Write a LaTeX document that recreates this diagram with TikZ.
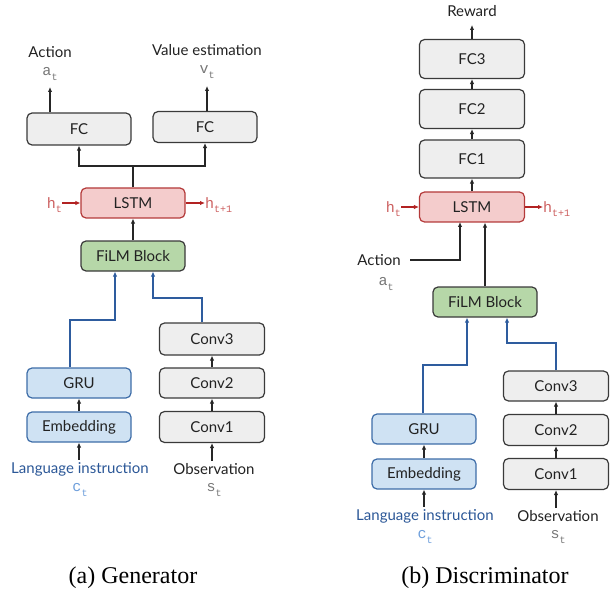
\documentclass[tikz,border=0pt]{standalone}
\usepackage{fontspec}
\setmainfont{Lato}
\newfontfamily\monof{Liberation Mono}
\newfontfamily\capf{Liberation Serif}
\usetikzlibrary{arrows.meta,calc}
\definecolor{boxgray}{HTML}{EEEEEE}
\definecolor{edgegray}{HTML}{3A3A3A}
\definecolor{lstmfill}{HTML}{F4CCCC}
\definecolor{lstmedge}{HTML}{B43A3A}
\definecolor{filmfill}{HTML}{B6D7A8}
\definecolor{bluefill}{HTML}{CFE2F3}
\definecolor{blueedge}{HTML}{3E6DA8}
\definecolor{blueline}{HTML}{2E5C9E}
\definecolor{langtext}{HTML}{2B5797}
\definecolor{ctext}{HTML}{6D9EDB}
\definecolor{htext}{HTML}{CC5F5F}
\definecolor{redarrow}{HTML}{B22222}
\definecolor{vartext}{HTML}{777777}
\definecolor{txt}{HTML}{222222}
\newcommand\sbt[1]{\raisebox{-0.6ex}{\fontsize{10}{10}\selectfont #1}}
\newcommand\mvar[2]{{\monof\fontsize{15}{16}\selectfont #1\sbt{#2}}}
\tikzset{
  blk/.style={draw=edgegray, fill=boxgray, rounded corners=5pt, line width=1.2pt,
    minimum width=104pt, minimum height=#1, inner sep=0pt, text=txt,
    font=\fontsize{15}{17}\selectfont},
  blk/.default=30pt,
  lstmbox/.style={blk, draw=lstmedge, fill=lstmfill},
  filmbox/.style={blk, fill=filmfill},
  bluebox/.style={blk, draw=blueedge, fill=bluefill},
  lbl/.style={inner sep=0pt, text=txt, font=\fontsize{15}{17}\selectfont},
  arr/.style={-{Latex[length=5pt,width=4.5pt]}, line width=1.2pt, draw=black!85},
  redarr/.style={arr, draw=redarrow},
  bluearr/.style={arr, draw=blueline},
  plain/.style={line width=1.2pt, draw=black!85},
}
\begin{document}
\begin{tikzpicture}[x=1pt,y=-1pt]
\useasboundingbox (0,0) rectangle (611,591);
% ---------------- (a) Generator ----------------
\node[blk=32pt] (FCa) at (79,129) {FC};
\node[blk=31pt] (FCb) at (205,127) {FC};
\node[lstmbox] (LSTMa) at (133,203) {LSTM};
\node[filmbox] (FiLMa) at (133,256) {FiLM Block};
\node[bluebox] (GRUa) at (79,383) {GRU};
\node[bluebox=31pt] (Emba) at (79,427) {Embedding};
\node[blk=32pt, minimum width=105pt] (C3a) at (212,339) {Conv3};
\node[blk, minimum width=105pt] (C2a) at (212,383) {Conv2};
\node[blk=31pt, minimum width=105pt] (C1a) at (212,427) {Conv1};

\node[lbl] (actA) at (50,52) {Action};
\node[inner sep=0pt, text=vartext] (atA) at (50,74) {\mvar{a}{t}};
\node[lbl] (valA) at (207,50) {Value estimation};
\node[inner sep=0pt, text=vartext] (vtA) at (207,72) {\mvar{v}{t}};
\coordinate (atip) at (50,87);
\coordinate (vtip) at (207,86);
\draw[arr] (atip |- FCa.north) -- (atip);
\draw[arr] (vtip |- FCb.north) -- (vtip);

\coordinate (bra) at (133,166);
\draw[plain] (LSTMa.north) -- (bra);
\draw[arr] (bra) -| (FCa.south);
\draw[arr] (bra) -| (FCb.south);
\draw[arr] (FiLMa.north) -- (LSTMa.south);

\node[inner sep=0pt, anchor=base east, text=htext] (htA) at (62,208) {\mvar{h}{t}};
\node[inner sep=0pt, anchor=base west, text=htext] (ht1A) at (205,208) {\mvar{h}{t+1}};
\draw[redarr] (htA.east |- LSTMa) -- (LSTMa.west);
\draw[redarr] (LSTMa.east) -- (ht1A.west |- LSTMa);

\coordinate (ja) at (115,320);
\coordinate (jb) at (153,298);
\draw[bluearr] ([xshift=-9pt]GRUa.north) |- (ja) -- (ja |- FiLMa.south);
\draw[bluearr] ([xshift=-10pt]C3a.north) |- (jb) -- (jb |- FiLMa.south);
\draw[arr] (Emba.north) -- (GRUa.south);
\draw[arr] (C1a.north) -- (C2a.south);
\draw[arr] (C2a.north) -- (C3a.south);

\node[lbl, text=langtext] (langA) at (80,469) {Language instruction};
\node[inner sep=0pt, text=ctext] (ctA) at (80,490) {\mvar{c}{t}};
\node[lbl] (obsA) at (214,469) {Observation};
\node[inner sep=0pt, text=vartext] (stA) at (214,490) {\mvar{s}{t}};
\draw[arr] (langA.north -| Emba) ++(0,-2) -- (Emba.south);
\draw[arr] (obsA.north -| C1a) ++(0,-2) -- (C1a.south);

\node[inner sep=0pt, font=\capf\fontsize{24}{26}\selectfont] (capA) at (133,578) {(a) Generator};

% ---------------- (b) Discriminator ----------------
\node[blk=39pt, minimum width=105pt] (FC3) at (472,59) {FC3};
\node[blk=39pt, minimum width=105pt] (FC2) at (472,109) {FC2};
\node[blk=38pt, minimum width=105pt] (FC1) at (472,159) {FC1};
\node[lstmbox, minimum width=105pt] (LSTMb) at (472,207) {LSTM};
\node[filmbox] (FiLMb) at (485,302) {FiLM Block};
\node[bluebox=31pt] (GRUb) at (424,429) {GRU};
\node[bluebox=31pt] (Embb) at (424,474) {Embedding};
\node[blk, minimum width=105pt] (C3b) at (556,386) {Conv3};
\node[blk=31pt, minimum width=105pt] (C2b) at (556,430) {Conv2};
\node[blk=31pt, minimum width=105pt] (C1b) at (556,474) {Conv1};

\node[lbl] (rew) at (472,11) {Reward};
\coordinate (rtip) at (472,25);
\draw[arr] (FC3.north) -- (rtip);
\draw[arr] (FC2.north) -- (FC3.south);
\draw[arr] (FC1.north) -- (FC2.south);
\draw[arr] (LSTMb.north) -- (FC1.south);

\node[inner sep=0pt, anchor=base east, text=htext] (htB) at (401,212) {\mvar{h}{t}};
\node[inner sep=0pt, anchor=base west, text=htext] (ht1B) at (543,212) {\mvar{h}{t+1}};
\draw[redarr] (htB.east |- LSTMb) -- (LSTMb.west);
\draw[redarr] (LSTMb.east) -- (ht1B.west |- LSTMb);

\node[lbl] (actB) at (379,260) {Action};
\node[inner sep=0pt, text=vartext] (atB) at (386,284) {\mvar{a}{t}};
\coordinate (actend) at (410,260);
\coordinate (lin) at (460,222);
\draw[arr] (actend) -| (lin);
\draw[arr] (FiLMb.north) -- (FiLMb.north |- LSTMb.south);

\coordinate (jc) at (467,365);
\coordinate (jd) at (507,343);
\draw[bluearr] ([xshift=-1pt]GRUb.north) |- (jc) -- (jc |- FiLMb.south);
\draw[bluearr] (C3b.north) |- (jd) -- (jd |- FiLMb.south);
\draw[arr] (Embb.north) -- (GRUb.south);
\draw[arr] (C1b.north) -- (C2b.south);
\draw[arr] (C2b.north) -- (C3b.south);

\node[lbl, text=langtext] (langB) at (425,516) {Language instruction};
\node[inner sep=0pt, text=ctext] (ctB) at (425,537) {\mvar{c}{t}};
\node[lbl] (obsB) at (558,516) {Observation};
\node[inner sep=0pt, text=vartext] (stB) at (558,537) {\mvar{s}{t}};
\draw[arr] (langB.north -| Embb) ++(0,-2) -- (Embb.south);
\draw[arr] (obsB.north -| C1b) ++(0,-2) -- (C1b.south);

\node[inner sep=0pt, font=\capf\fontsize{24}{26}\selectfont] (capB) at (485,578) {(b) Discriminator};
\end{tikzpicture}
\end{document}
